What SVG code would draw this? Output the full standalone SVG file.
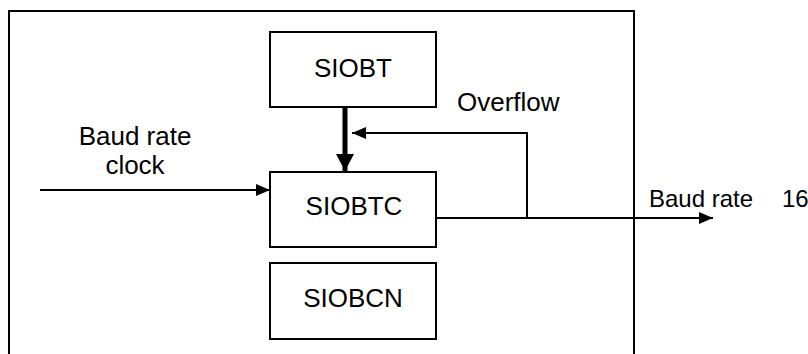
<svg xmlns="http://www.w3.org/2000/svg" width="808" height="354" viewBox="0 0 808 354">
<style>
.box{fill:#fff;stroke:#000;stroke-width:2}
.t{font-family:"Liberation Sans",Arial,sans-serif;font-size:26px;fill:#000}
.s{font-size:24px}
.m{text-anchor:middle}
.ln{fill:none;stroke:#000;stroke-width:2}
</style>
<defs>
<marker id="ah" markerUnits="userSpaceOnUse" markerWidth="14" markerHeight="12" refX="14" refY="6" orient="auto"><path d="M0,0 L14,6 L0,12 Z" fill="#000"/></marker>
<marker id="ahb" markerUnits="userSpaceOnUse" markerWidth="18" markerHeight="18" refX="17" refY="9" orient="auto"><path d="M0,0 L17,9 L0,18 Z" fill="#000"/></marker>
</defs>
<rect id="frame" x="9" y="11" width="625" height="360" fill="none" stroke="#000" stroke-width="2"/>
<g id="connectors">
<line class="ln" x1="40" y1="190" x2="270" y2="190" marker-end="url(#ah)"/>
<line x1="345" y1="108" x2="345" y2="171" stroke="#000" stroke-width="5" marker-end="url(#ahb)"/>
<polyline class="ln" points="436,218 527,218 527,133 352,133" marker-end="url(#ah)"/>
<line class="ln" x1="436" y1="218" x2="713" y2="218" marker-end="url(#ah)"/>
</g>
<g id="siobt"><rect class="box" x="270" y="32" width="166" height="75"/><text class="t m" x="353" y="77">SIOBT</text></g>
<g id="siobtc"><rect class="box" x="270" y="172" width="166" height="75"/><text class="t m" x="354" y="215">SIOBTC</text></g>
<g id="siobcn"><rect class="box" x="270" y="263" width="166" height="76"/><text class="t m" x="353" y="307">SIOBCN</text></g>
<g id="labels">
<text class="t m" x="135" y="145">Baud rate</text>
<text class="t m" x="135" y="174">clock</text>
<text class="t" x="457" y="111">Overflow</text>
<text class="t s" x="649" y="207">Baud rate</text>
<text class="t s" x="782" y="207">16</text>
</g>
</svg>
